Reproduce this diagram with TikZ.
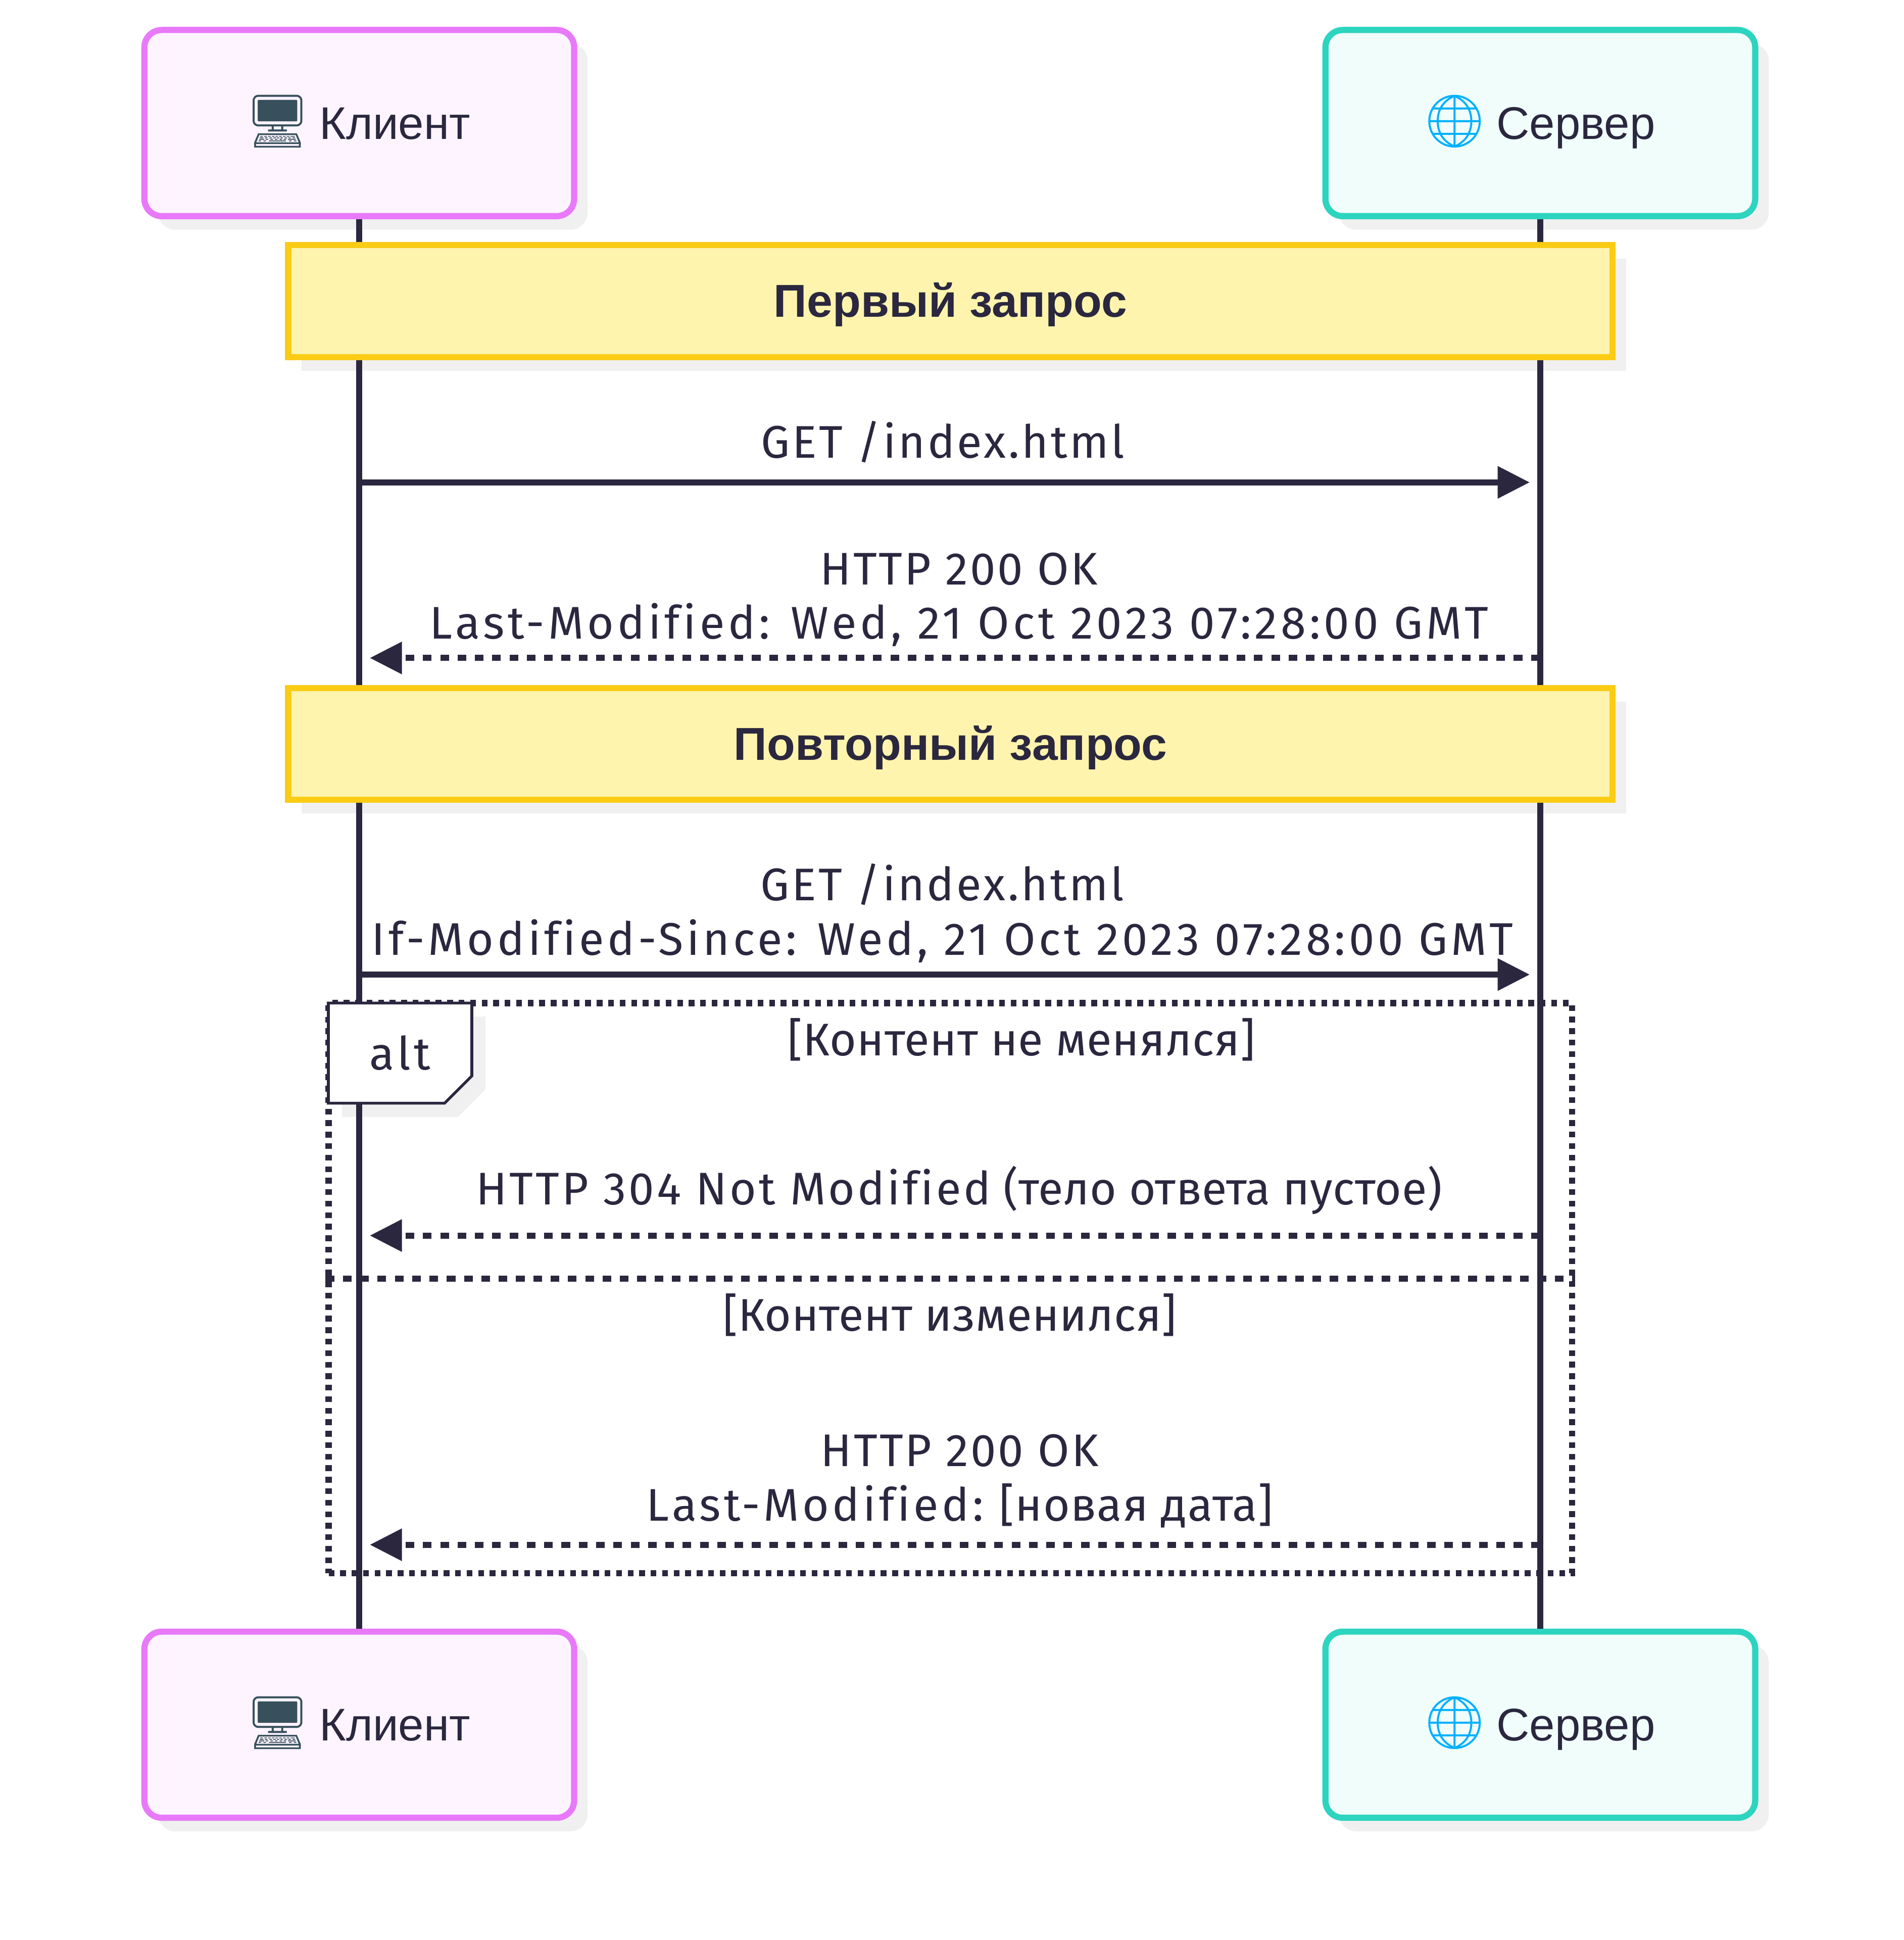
\documentclass[tikz,border=0pt]{standalone}
\usepackage{fontspec}
\usetikzlibrary{positioning}
\usetikzlibrary{arrows.meta}
\usetikzlibrary{shadows}
\usetikzlibrary{shapes.misc}
\setmainfont{Liberation Sans}
\newfontfamily\msgfont{Fira Sans}[Ligatures=NoCommon]
\newfontfamily\emojifont{Noto Emoji}
\definecolor{ink}{HTML}{2A273F}
\definecolor{clientline}{HTML}{E879F9}
\definecolor{clientfill}{HTML}{FDF4FF}
\definecolor{serverline}{HTML}{2DD4BF}
\definecolor{serverfill}{HTML}{F0FDFA}
\definecolor{noteline}{HTML}{FACC15}
\definecolor{notefill}{HTML}{FFF4AD}
\definecolor{shadowgrey}{HTML}{F0F0F0}
\newcommand{\clientlabel}{{\emojifont\fontsize{42}{44}\selectfont\textcolor[HTML]{37505C}{^^^^^^01f5a5}}\hspace{-3pt}\ Клиент}
\newcommand{\serverlabel}{{\emojifont\fontsize{42}{44}\selectfont\textcolor[HTML]{00B0FF}{^^^^^^01f310}}\hspace{-3pt}\ Сервер}
\newcommand{\spaced}[2]{{\addfontfeature{LetterSpace=#1}#2}}
\newcommand{\drop}[2]{\raisebox{-#1pt}[0pt][0pt]{#2}}

\begin{document}
\begin{tikzpicture}[
    x=1pt, y=-1pt,
    SHADE/.style={general shadow={shadow xshift=11pt, shadow yshift=-11pt, fill=shadowgrey}},
    ACT/.style={rectangle, rounded corners=14pt, line width=5pt, minimum width=347.5pt, minimum height=150.5pt, text=ink, font=\fontsize{37}{44}\selectfont, SHADE},
    NOTE/.style={rectangle, draw=noteline, fill=notefill, line width=5pt, minimum width=1071pt, minimum height=90.5pt, text=ink, font=\fontsize{37.3}{44}\selectfont\bfseries, SHADE},
    MSG/.style={text=ink, inner sep=0pt, align=center, font=\fontsize{37}{44}\selectfont\msgfont},
    LIFE/.style={ink, line width=5pt},
    SEND/.style={ink, line width=5pt, -{Triangle[length=26pt, width=25pt]}},
    REPLY/.style={SEND, dash pattern=on 7pt off 7pt},
    FRAME/.style={rectangle, draw=ink, line width=5pt, dash pattern=on 4.65pt off 4.65pt, minimum width=1005.5pt, minimum height=461pt},
    TAB/.style={chamfered rectangle, chamfered rectangle corners=south east, chamfered rectangle xsep=14pt, chamfered rectangle ysep=8pt, draw=ink, fill=white, line width=2.3pt, inner sep=0pt, minimum width=116pt, minimum height=81pt, text=ink, font=\fontsize{37}{44}\selectfont\msgfont, SHADE},
    ]
        \useasboundingbox (0,0) rectangle (1539.5,1568.6);

        \node[ACT, draw=clientline, fill=clientfill] (client) at (290.5,99.5) {\drop{13}{\hspace{-3pt}\clientlabel}};
        \node[ACT, draw=serverline, fill=serverfill] (server) at (1245.5,99.5) {\drop{13}{\hspace{-3pt}\serverlabel}};
        \node[ACT, draw=clientline, fill=clientfill] (clientB) at (290.5,1394.5) {\drop{13}{\hspace{-3pt}\clientlabel}};
        \node[ACT, draw=serverline, fill=serverfill] (serverB) at (1245.5,1394.5) {\drop{13}{\hspace{-3pt}\serverlabel}};

        \node[NOTE] (first) at (768.5,243.5) {\drop{13}{Первый запрос}};
        \node[NOTE] (second) at (768.5,601.5) {\drop{13}{Повторный запрос}};

        \node[FRAME] (alt) at (768.5,1041.5) {};
        \node[TAB] (altTab) at (323.5,851.5) {\raisebox{-7pt}{\spaced{7}{alt}}};
        \draw[ink, line width=5pt, dash pattern=on 7pt off 7pt] (alt.west |- 0,1034) -- (alt.east |- 0,1034);

        % lifelines, piece by piece between the boxes
        \draw[LIFE] (client.south) -- (client.south |- first.north);
        \draw[LIFE] (client.south |- first.south) -- (client.south |- second.north);
        \draw[LIFE] (client.south |- second.south) -- (client.south |- altTab.north);
        \draw[LIFE] (client.south |- altTab.south) -- (clientB.north);
        \draw[LIFE] (server.south) -- (server.south |- first.north);
        \draw[LIFE] (server.south |- first.south) -- (server.south |- second.north);
        \draw[LIFE] (server.south |- second.south) -- (serverB.north);

        % messages
        \coordinate (c1) at (292,390);
        \coordinate (s1) at (1237,390);
        \coordinate (c2) at (299,532);
        \coordinate (s2) at (1245,532);
        \coordinate (c3) at (292,788);
        \coordinate (s3) at (1237,788);
        \coordinate (c4) at (299,999);
        \coordinate (s4) at (1245,999);
        \coordinate (c5) at (299,1249);
        \coordinate (s5) at (1245,1249);

        \draw[SEND] (c1) -- (s1);
        \draw[REPLY] (s2) -- (c2);
        \draw[SEND] (c3) -- (s3);
        \draw[REPLY] (s4) -- (c4);
        \draw[REPLY] (s5) -- (c5);

        \node[MSG, anchor=south] (m1) at (762.5,374.5) {\spaced{5}{GET /index.html}};
        \node[MSG, anchor=south] (m2) at (775.5,523) {\spaced{4.4}{HTTP 200 OK}\\\spaced{7.6}{Last-Modified: Wed, 21 Oct 2023 07:28:00 GMT}};
        \node[MSG, anchor=south] (m3) at (762,778.5) {\spaced{5}{GET /index.html}\\\spaced{7.4}{If-Modified-Since: Wed, 21 Oct 2023 07:28:00 GMT}};
        \node[MSG, anchor=south] (m4) at (775.5,982) {\spaced{5.6}{HTTP 304 Not Modified} \spaced{0.8}{(тело ответа пустое)}};
        \node[MSG, anchor=south] (m5) at (776,1235.5) {\spaced{4.4}{HTTP 200 OK}\\\spaced{7}{Last-Modified:} \spaced{2}{[новая дата]}};

        \node[MSG] (c1text) at (826,840.5) {\spaced{1}{[Контент не менялся]}};
        \node[MSG] (c2text) at (768,1063) {\spaced{0.7}{[Контент изменился]}};
    \end{tikzpicture}
\end{document}
